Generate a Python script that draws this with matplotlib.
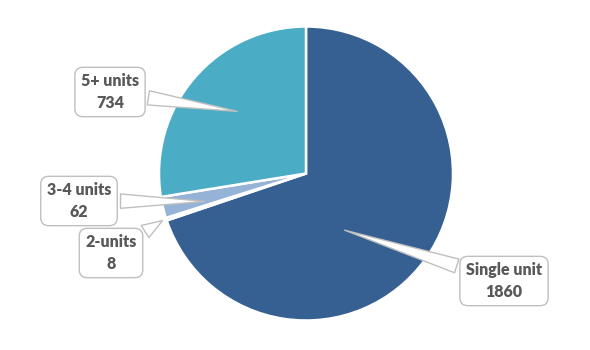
import matplotlib
matplotlib.use("Agg")
import matplotlib.pyplot as plt

categories = ["Single unit", "2-units", "3-4 units", "5+ units"]
values = [1860, 8, 62, 734]
colors = ["#366092", "#B7DEE8", "#95B3D7", "#4BACC6"]

# label box centres (figure pixels from top-left) and pointer tips (data coords)
label_pos = [(504, 281), (111, 253), (79, 201), (110, 92)]
tip_pos = [(0.245, -0.38), (-0.96, -0.31), (-0.67, -0.19), (-0.45, 0.42)]

plt.rcParams['font.family'] = ['Lato', 'DejaVu Sans']
W, H = 590, 350
fig = plt.figure(figsize=(W / 100, H / 100), dpi=100)
cx, cy, r = 306, 173.5, 147
ax = fig.add_axes([(cx - r) / W, (H - cy - r) / H, 2 * r / W, 2 * r / H])
ax.pie(values, colors=colors, startangle=90, counterclock=False, radius=1,
       wedgeprops=dict(edgecolor="white", linewidth=1.8))
ax.set_xlim(-1, 1)
ax.set_ylim(-1, 1)
ax.set_aspect("equal")
ax.axis("off")

for cat, val, (px, py), tip in zip(categories, values, label_pos, tip_pos):
    ax.annotate(f"{cat}\n{val}", xy=tip, xycoords="data",
                xytext=(px, H - py), textcoords="figure pixels",
                ha="center", va="center", multialignment="center",
                fontsize=11.5, fontweight="heavy", color="#595959",
                linespacing=1.4,
                bbox=dict(boxstyle="round,pad=0.38,rounding_size=0.5",
                          fc="white", ec="#BFBFBF", lw=1),
                arrowprops=dict(arrowstyle="wedge,tail_width=0.9,shrink_factor=0.5",
                                fc="white", ec="#BFBFBF", lw=1),
                annotation_clip=False)

fig.savefig("out.png", dpi=100)
